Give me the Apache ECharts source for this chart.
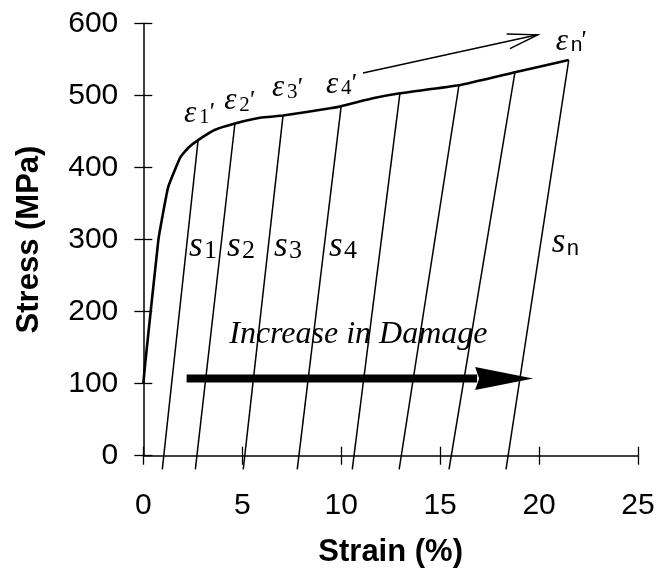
<!DOCTYPE html>
<html><head><meta charset="utf-8">
<script src="https://cdn.jsdelivr.net/npm/echarts@6/dist/echarts.min.js"></script>
<style>html,body{margin:0;padding:0;background:#fff}#c{width:660px;height:575px}</style>
</head><body><div id="c"></div>
<script>
// ---- data ----
const xTicks = [0, 5, 10, 15, 20, 25];
const yTicks = [0, 100, 200, 300, 400, 500, 600];
const curveStrain = [0, 0.1, 0.76, 0.96, 1.26, 1.87, 2.3, 2.77, 3.6, 4.63, 5.9, 7.06, 9.44, 10.0, 11.6, 12.97, 15.95, 18.78, 21.5];
const curveStress = [100, 129, 299, 331, 373, 414, 428, 438, 452, 461, 469, 472, 482, 485, 496, 503, 514, 532, 549];
const unloadTopStrain = [2.77, 4.63, 7.06, 10.0, 12.97, 15.95, 18.78, 21.5];
const unloadTopStress = [438, 461, 472, 485, 503, 514, 532, 549];
const unloadBottomStrain = [0.96, 2.63, 5.05, 7.78, 10.56, 12.93, 15.45, 18.33];
const unloadBottomStress = [-19, -19, -19, -19, -19, -19, -19, -19];
const damageArrowStrain = [2.19, 19.7];
const damageArrowStress = [107, 107];
const trendArrowStrain = [11.1, 19.93];
const trendArrowStress = [531, 584];
const epsSubs = ['1', '2', '3', '4', 'n'];
const sSubs = ['1', '2', '3', '4', 'n'];
const damageText = 'Increase in Damage';

// ---- annotation anchors (data coordinates: left edge / baseline of labels) ----
const epsAnchors = [[2.11, 463], [4.14, 480], [6.55, 498], [9.28, 503], [20.89, 563]];
const sAnchors = [[2.36, 276], [4.28, 276], [6.65, 276], [9.43, 276], [20.69, 282]];
const damageTextAnchor = [10.87, 156];

const SERIF = '"Liberation Serif", "DejaVu Serif", serif';
const SANS = '"Liberation Sans", Arial, sans-serif';

const chart = echarts.init(document.getElementById('c'), null, {renderer: 'canvas'});

const gridBox = {left: 143.3, right: 22, top: 23.3, bottom: 119.3};
const series = [];

// main stress-strain curve
series.push({
  type: 'line', xAxisIndex: 0, yAxisIndex: 0,
  data: curveStrain.map((x, i) => [x, curveStress[i]]),
  symbol: 'none', smooth: 0.12, clip: false,
  lineStyle: {color: '#000', width: 2.6}, z: 5
});
// unloading lines
unloadTopStrain.forEach((x, i) => {
  series.push({
    type: 'line', xAxisIndex: 0, yAxisIndex: 0,
    data: [[x, unloadTopStress[i]], [unloadBottomStrain[i], unloadBottomStress[i]]],
    symbol: 'none', clip: false,
    lineStyle: {color: '#000', width: 1.5}, z: 4
  });
});
// arrows
series.push({
  type: 'custom', xAxisIndex: 0, yAxisIndex: 0, clip: false, z: 6,
  data: [[damageArrowStrain[0], damageArrowStress[0], damageArrowStrain[1], damageArrowStress[1]]],
  renderItem: function (params, api) {
    const a = api.coord([api.value(0), api.value(1)]);
    const b = api.coord([api.value(2), api.value(3)]);
    const head = 58, half = 11.5;
    return {type: 'group', children: [
      {type: 'line', shape: {x1: a[0], y1: a[1], x2: b[0] - head + 2, y2: b[1]}, style: {stroke: '#000', lineWidth: 8}},
      {type: 'polygon', shape: {points: [[b[0], b[1]], [b[0] - head, b[1] - half], [b[0] - head + 4, b[1]], [b[0] - head, b[1] + half]]}, style: {fill: '#000'}}
    ]};
  }
});
series.push({
  type: 'custom', xAxisIndex: 0, yAxisIndex: 0, clip: false, z: 6,
  data: [[trendArrowStrain[0], trendArrowStress[0], trendArrowStrain[1], trendArrowStress[1]]],
  renderItem: function (params, api) {
    const a = api.coord([api.value(0), api.value(1)]);
    const b = api.coord([api.value(2), api.value(3)]);
    const ang = Math.atan2(a[1] - b[1], a[0] - b[0]);
    const L = 31, d = 14 * Math.PI / 180;
    const p1 = [b[0] + L * Math.cos(ang + d), b[1] + L * Math.sin(ang + d)];
    const p2 = [b[0] + L * Math.cos(ang - d), b[1] + L * Math.sin(ang - d)];
    const st = {stroke: '#000', lineWidth: 1.5};
    return {type: 'group', children: [
      {type: 'line', shape: {x1: a[0], y1: a[1], x2: b[0], y2: b[1]}, style: st},
      {type: 'polyline', shape: {points: [p1, b, p2]}, style: {stroke: '#000', lineWidth: 1.5, fill: null}}
    ]};
  }
});
// epsilon labels
series.push({
  type: 'custom', xAxisIndex: 0, yAxisIndex: 0, clip: false, z: 7,
  data: epsAnchors.map((p, i) => [p[0], p[1], i]),
  renderItem: function (params, api) {
    const p = api.coord([api.value(0), api.value(1)]);
    const sub = epsSubs[api.value(2)];
    const isN = sub === 'n';
    return {type: 'group', children: [
      {type: 'text', x: p[0] - 1, y: p[1] + 7, style: {text: 'ε', font: 'italic 31px ' + SERIF, fill: '#000', align: 'left', verticalAlign: 'bottom'}},
      {type: 'text', x: p[0] + 14, y: p[1] + 6, style: {text: sub, font: (isN ? '21px ' + SANS : '21px ' + SERIF), fill: '#000', align: 'left', verticalAlign: 'bottom'}},
      {type: 'text', x: p[0] + 23, y: p[1] + 4, style: {text: '\'', font: 'italic 26px ' + SERIF, fill: '#000', align: 'left', verticalAlign: 'bottom'}}
    ]};
  }
});
// s labels
series.push({
  type: 'custom', xAxisIndex: 0, yAxisIndex: 0, clip: false, z: 7,
  data: sAnchors.map((p, i) => [p[0], p[1], i]),
  renderItem: function (params, api) {
    const p = api.coord([api.value(0), api.value(1)]);
    const sub = sSubs[api.value(2)];
    const isN = sub === 'n';
    return {type: 'group', children: [
      {type: 'text', x: p[0] - 1, y: p[1] + 8, style: {text: 's', font: 'italic 35px ' + SERIF, fill: '#000', align: 'left', verticalAlign: 'bottom'}},
      {type: 'text', x: p[0] + 14, y: p[1] + 7, style: {text: sub, font: (isN ? '22px ' + SANS : '26px ' + SERIF), fill: '#000', align: 'left', verticalAlign: 'bottom'}}
    ]};
  }
});
// damage text
series.push({
  type: 'custom', xAxisIndex: 0, yAxisIndex: 0, clip: false, z: 7,
  data: [[damageTextAnchor[0], damageTextAnchor[1]]],
  renderItem: function (params, api) {
    const p = api.coord([api.value(0), api.value(1)]);
    return {type: 'text', x: p[0], y: p[1] + 7, style: {text: damageText, font: 'italic 32px ' + SERIF, fill: '#000', align: 'center', verticalAlign: 'bottom'}};
  }
});

const option = {
  animation: false,
  backgroundColor: '#fff',
  grid: [Object.assign({}, gridBox), Object.assign({}, gridBox)],
  xAxis: [
    {type: 'value', gridIndex: 0, min: xTicks[0], max: xTicks[xTicks.length - 1], interval: xTicks[1] - xTicks[0],
     name: 'Strain (%)', nameLocation: 'middle', nameGap: 81,
     nameTextStyle: {fontFamily: SANS, fontWeight: 'bold', fontSize: 31, color: '#000'},
     axisLine: {show: true, onZero: false, lineStyle: {color: '#000', width: 1.5}},
     axisTick: {show: true, inside: false, length: 9, lineStyle: {color: '#000', width: 1.3}},
     axisLabel: {fontFamily: SANS, fontSize: 30, color: '#000', margin: 35},
     splitLine: {show: false}},
    {type: 'value', gridIndex: 1, min: xTicks[0], max: xTicks[xTicks.length - 1], interval: xTicks[1] - xTicks[0],
     axisLine: {show: false}, axisTick: {show: true, inside: true, length: 9, lineStyle: {color: '#000', width: 1.3}},
     axisLabel: {show: false}, splitLine: {show: false}}
  ],
  yAxis: [
    {type: 'value', gridIndex: 0, min: yTicks[0], max: yTicks[yTicks.length - 1], interval: yTicks[1] - yTicks[0],
     name: 'Stress (MPa)', nameLocation: 'middle', nameGap: 98, nameRotate: 90,
     nameTextStyle: {fontFamily: SANS, fontWeight: 'bold', fontSize: 31, color: '#000'},
     axisLine: {show: true, onZero: false, lineStyle: {color: '#000', width: 1.5}},
     axisTick: {show: true, inside: false, length: 9, lineStyle: {color: '#000', width: 1.3}},
     axisLabel: {fontFamily: SANS, fontSize: 30, color: '#000', margin: 25},
     splitLine: {show: false}},
    {type: 'value', gridIndex: 1, min: yTicks[0], max: yTicks[yTicks.length - 1], interval: yTicks[1] - yTicks[0],
     axisLine: {show: false}, axisTick: {show: true, inside: true, length: 9, lineStyle: {color: '#000', width: 1.3}},
     axisLabel: {show: false}, splitLine: {show: false}}
  ],
  series: series
};
chart.setOption(option);
</script>
</body></html>
